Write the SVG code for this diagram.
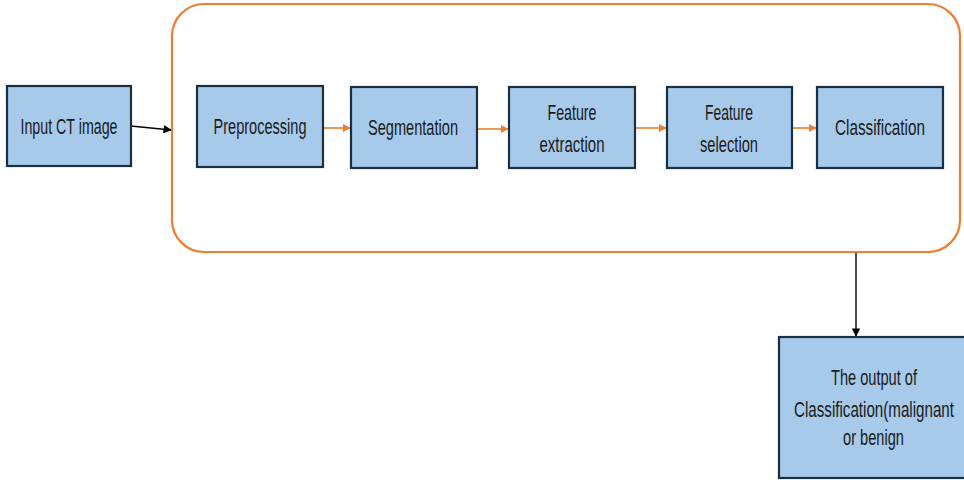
<svg xmlns="http://www.w3.org/2000/svg" width="964" height="480" viewBox="0 0 964 480">
<style>
.box{fill:#A7CAEB;stroke:#1B2F40;stroke-width:2.2}
.t{font-family:"Liberation Sans Narrow","Liberation Sans",sans-serif;font-size:21.5px;fill:#1a1a1a;text-anchor:middle}
.oc{stroke:#ED7D31;stroke-width:1.6;fill:none}
.bc{stroke:#000;stroke-width:1.4;fill:none}
</style>
<defs>
<marker id="ao" viewBox="0 0 10 10" refX="9" refY="5" markerWidth="5" markerHeight="5" orient="auto" markerUnits="strokeWidth"><path d="M0,0L10,5L0,10z" fill="#ED7D31"/></marker>
<marker id="ab" viewBox="0 0 10 10" refX="9" refY="5" markerWidth="6" markerHeight="6" orient="auto" markerUnits="strokeWidth"><path d="M0,0L10,5L0,10z" fill="#000"/></marker>
</defs>
<rect width="964" height="480" fill="#fff"/>
<g id="container"><rect x="172" y="4" width="788" height="248" rx="32" ry="32" fill="none" stroke="#ED7D31" stroke-width="2.2"/></g>
<g id="connectors">
<path class="bc" d="M131,126L171,130" marker-end="url(#ab)"/>
<path class="oc" d="M324,128L350,128" marker-end="url(#ao)"/>
<path class="oc" d="M478,129L508,129" marker-end="url(#ao)"/>
<path class="oc" d="M636,128L666,128" marker-end="url(#ao)"/>
<path class="oc" d="M793,128L816,128" marker-end="url(#ao)"/>
<path class="bc" d="M856,253L856,336" marker-end="url(#ab)"/>
</g>
<g id="input"><rect class="box" x="7" y="86" width="124" height="80"/><text class="t" x="69" y="134" textLength="97" lengthAdjust="spacingAndGlyphs">Input CT image</text></g>
<g id="preprocessing"><rect class="box" x="197" y="86" width="126" height="81"/><text class="t" x="260" y="134" textLength="93" lengthAdjust="spacingAndGlyphs">Preprocessing</text></g>
<g id="segmentation"><rect class="box" x="351" y="87" width="126" height="81"/><text class="t" x="413" y="135" textLength="90" lengthAdjust="spacingAndGlyphs">Segmentation</text></g>
<g id="feature-extraction"><rect class="box" x="509" y="87" width="126" height="81"/><text class="t" x="572" y="120" textLength="49" lengthAdjust="spacingAndGlyphs">Feature</text><text class="t" x="572" y="152" textLength="65" lengthAdjust="spacingAndGlyphs">extraction</text></g>
<g id="feature-selection"><rect class="box" x="667" y="87" width="125" height="81"/><text class="t" x="729" y="120" textLength="48" lengthAdjust="spacingAndGlyphs">Feature</text><text class="t" x="729" y="152" textLength="58" lengthAdjust="spacingAndGlyphs">selection</text></g>
<g id="classification"><rect class="box" x="817" y="87" width="126" height="81"/><text class="t" x="880" y="135" textLength="90" lengthAdjust="spacingAndGlyphs">Classification</text></g>
<g id="output"><rect class="box" x="779" y="337" width="190" height="141"/><text class="t" x="874" y="385" textLength="86" lengthAdjust="spacingAndGlyphs">The output of</text><text class="t" x="874" y="417" textLength="160" lengthAdjust="spacingAndGlyphs">Classification(malignant</text><text class="t" x="873.5" y="445" textLength="61" lengthAdjust="spacingAndGlyphs">or benign</text></g>
</svg>
